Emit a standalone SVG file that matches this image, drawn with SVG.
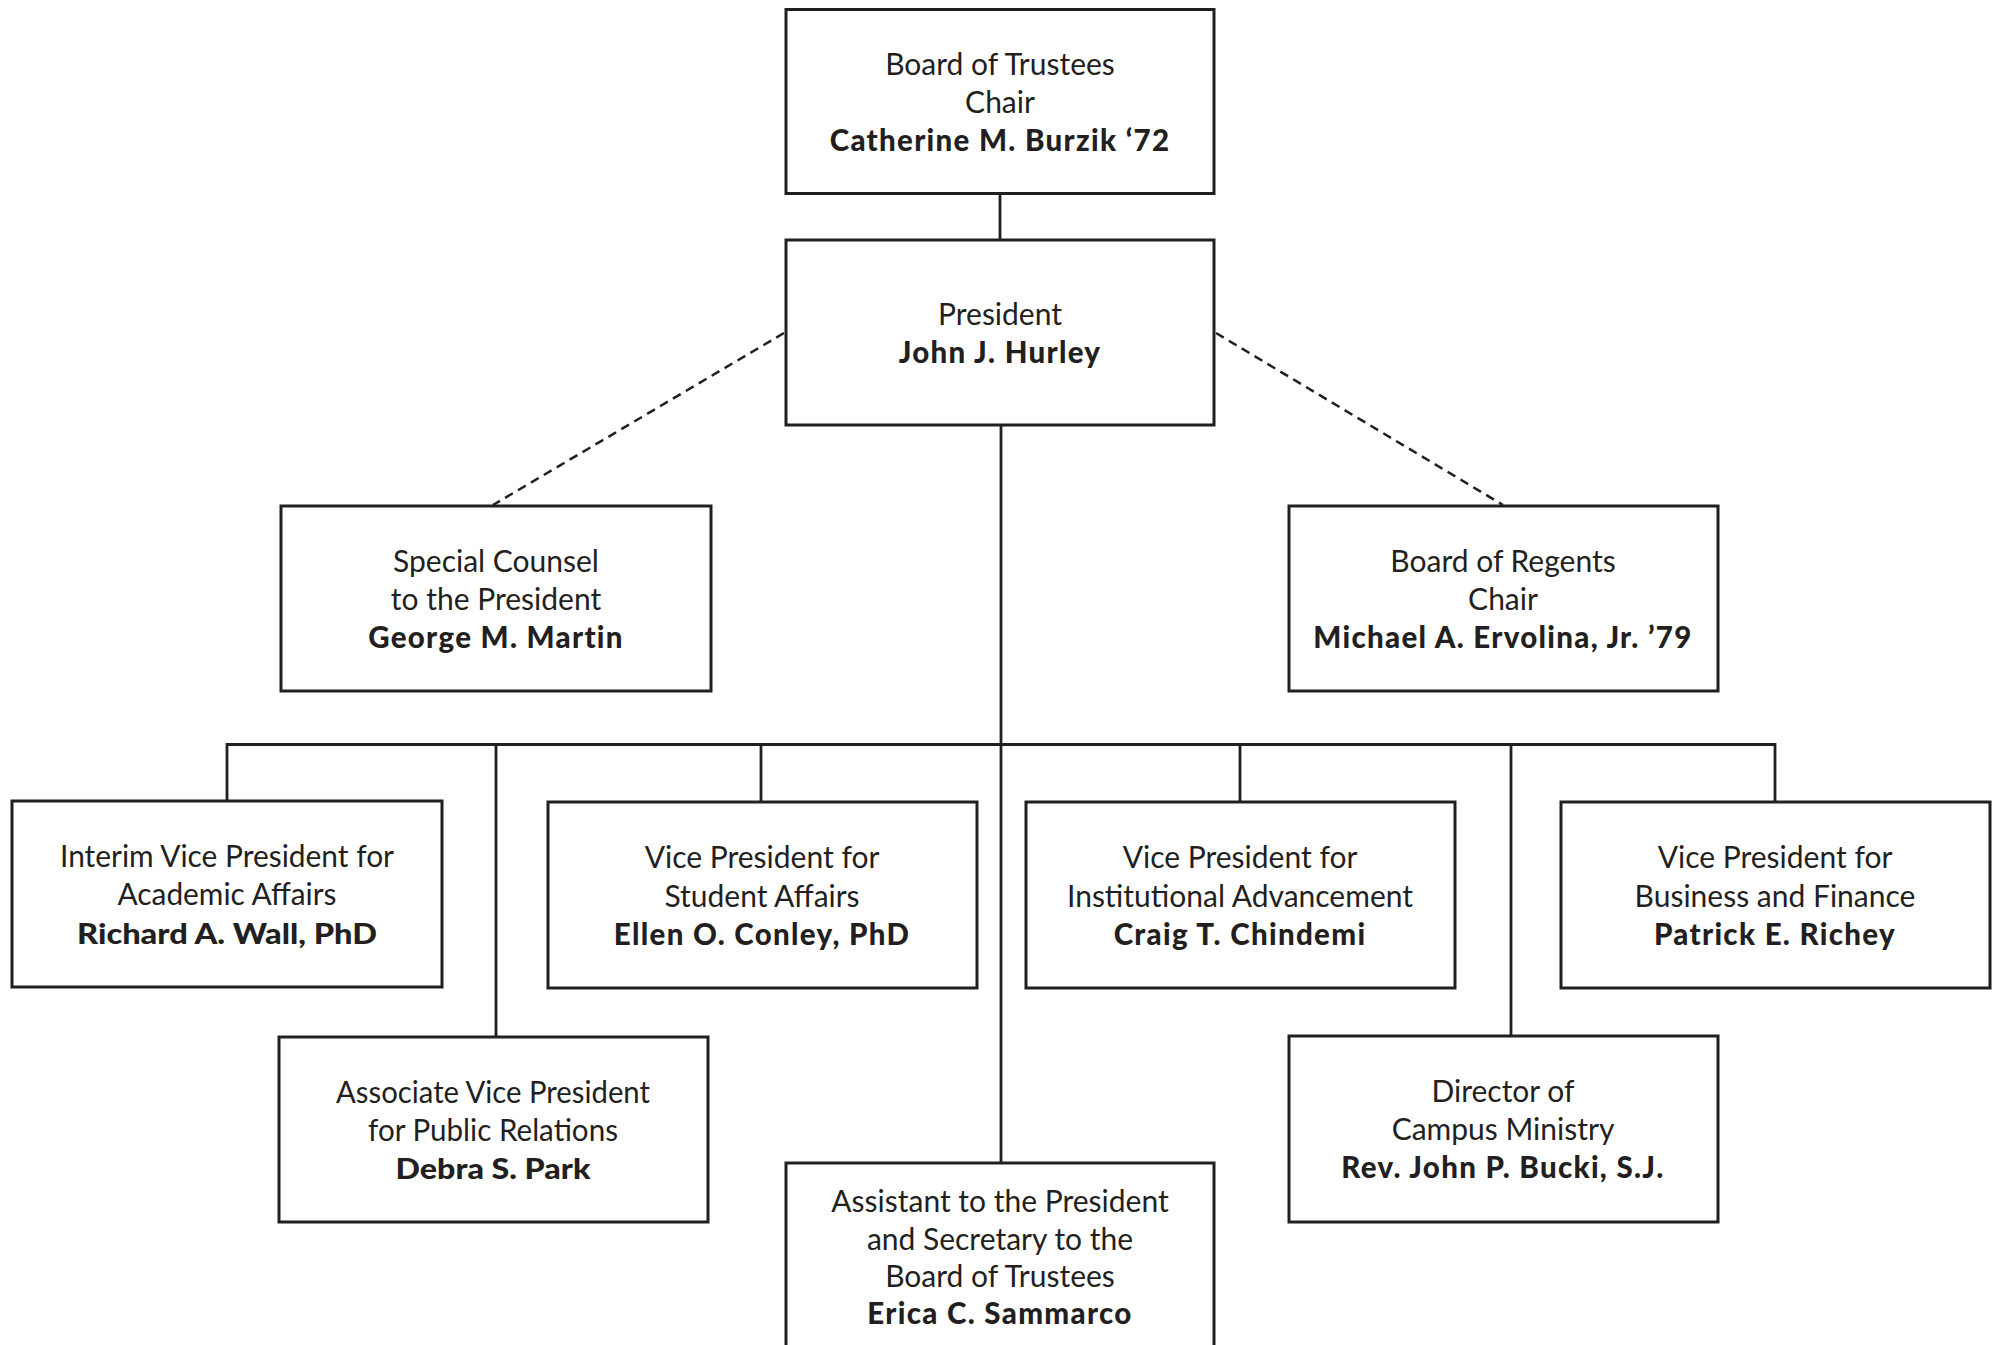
<svg xmlns="http://www.w3.org/2000/svg" width="1997" height="1345" viewBox="0 0 1997 1345">
<style>
  .box { fill: #ffffff; stroke: #231f20; stroke-width: 3; }
  .ln { fill: none; stroke: #231f20; stroke-width: 2.8; }
  .dash { fill: none; stroke: #231f20; stroke-width: 2.5; stroke-dasharray: 9 6; }
  text { font-family: Lato, "Open Sans", sans-serif; fill: #231f20; text-anchor: middle; }
  .t { font-size: 30px; font-weight: 400; }
  .n { font-size: 29.5px; font-weight: 900; letter-spacing: 1.3px; }
  .c { font-size: 30px; font-weight: 400; }
  .cn { font-size: 29px; font-weight: 900; }
</style>
<rect width="1997" height="1345" fill="#ffffff"/>
<g id="connectors">
  <line class="ln" x1="1000" y1="194" x2="1000" y2="240"/>
  <line class="ln" x1="1001" y1="425" x2="1001" y2="1163"/>
  <line class="ln" x1="226" y1="744.5" x2="1776" y2="744.5"/>
  <line class="ln" x1="227" y1="743" x2="227" y2="801"/>
  <line class="ln" x1="496" y1="743" x2="496" y2="1037"/>
  <line class="ln" x1="761" y1="743" x2="761" y2="802"/>
  <line class="ln" x1="1240" y1="743" x2="1240" y2="802"/>
  <line class="ln" x1="1511" y1="743" x2="1511" y2="1036"/>
  <line class="ln" x1="1775" y1="743" x2="1775" y2="802"/>
  <line class="dash" x1="784" y1="333" x2="493" y2="505"/>
  <line class="dash" x1="1216" y1="333" x2="1503" y2="505"/>
</g>
<g id="trustees">
  <rect class="box" x="786" y="9.5" width="428" height="184"/>
  <text class="t" x="1000" y="75">Board of Trustees</text>
  <text class="t" x="1000" y="113">Chair</text>
  <text class="n" x="1000" y="151">Catherine M. Burzik ‘72</text>
</g>
<g id="president">
  <rect class="box" x="786" y="240" width="428" height="185"/>
  <text class="t" x="1000" y="325">President</text>
  <text class="n" x="1000" y="363">John J. Hurley</text>
</g>
<g id="counsel">
  <rect class="box" x="281" y="506" width="430" height="185"/>
  <text class="t" x="496" y="572">Special Counsel</text>
  <text class="t" x="496" y="610">to the President</text>
  <text class="n" x="496" y="648">George M. Martin</text>
</g>
<g id="regents">
  <rect class="box" x="1289" y="506" width="429" height="185"/>
  <text class="t" x="1503" y="572">Board of Regents</text>
  <text class="t" x="1503" y="610">Chair</text>
  <text class="n" x="1503" y="648">Michael A. Ervolina, Jr. ’79</text>
</g>
<g id="interim">
  <rect class="box" x="12" y="801" width="430" height="186"/>
  <text class="c" x="227" y="867" textLength="334" lengthAdjust="spacingAndGlyphs">Interim Vice President for</text>
  <text class="c" x="227" y="905" textLength="219" lengthAdjust="spacingAndGlyphs">Academic Affairs</text>
  <text class="cn" x="227" y="944" textLength="300" lengthAdjust="spacingAndGlyphs">Richard A. Wall, PhD</text>
</g>
<g id="student">
  <rect class="box" x="548" y="802" width="429" height="186"/>
  <text class="t" x="762" y="868">Vice President for</text>
  <text class="t" x="762" y="907">Student Affairs</text>
  <text class="n" x="762" y="945">Ellen O. Conley, PhD</text>
</g>
<g id="institutional">
  <rect class="box" x="1026" y="802" width="429" height="186"/>
  <text class="t" x="1240" y="868">Vice President for</text>
  <text class="t" x="1240" y="907">Institutional Advancement</text>
  <text class="n" x="1240" y="945">Craig T. Chindemi</text>
</g>
<g id="business">
  <rect class="box" x="1561" y="802" width="429" height="186"/>
  <text class="t" x="1775" y="868">Vice President for</text>
  <text class="t" x="1775" y="907">Business and Finance</text>
  <text class="n" x="1775" y="945">Patrick E. Richey</text>
</g>
<g id="associate">
  <rect class="box" x="279" y="1037" width="429" height="185"/>
  <text class="c" x="493" y="1103" textLength="314" lengthAdjust="spacingAndGlyphs">Associate Vice President</text>
  <text class="c" x="493" y="1141" textLength="250" lengthAdjust="spacingAndGlyphs">for Public Relations</text>
  <text class="cn" x="493" y="1179" textLength="195" lengthAdjust="spacingAndGlyphs">Debra S. Park</text>
</g>
<g id="director">
  <rect class="box" x="1289" y="1036" width="429" height="186"/>
  <text class="t" x="1503" y="1102">Director of</text>
  <text class="t" x="1503" y="1140">Campus Ministry</text>
  <text class="n" x="1503" y="1178">Rev. John P. Bucki, S.J.</text>
</g>
<g id="assistant">
  <rect class="box" x="786" y="1163" width="428" height="200"/>
  <text class="t" x="1000" y="1212">Assistant to the President</text>
  <text class="t" x="1000" y="1250">and Secretary to the</text>
  <text class="t" x="1000" y="1287">Board of Trustees</text>
  <text class="n" x="1000" y="1324">Erica C. Sammarco</text>
</g>
</svg>
